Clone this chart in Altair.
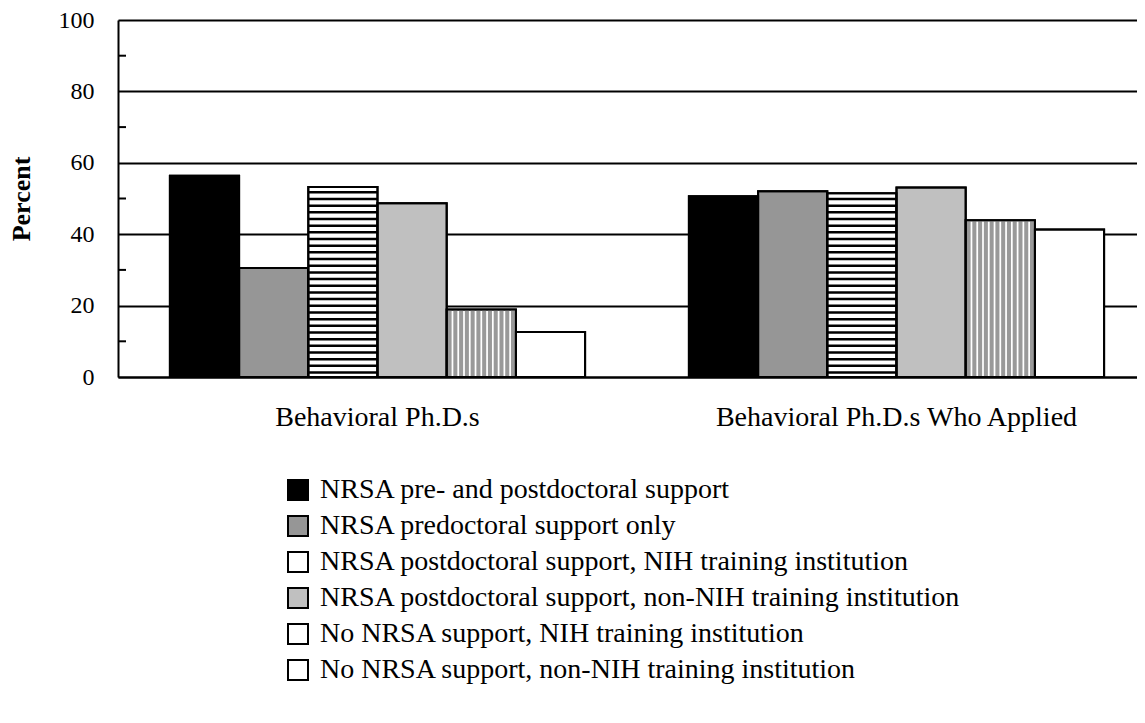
import altair as alt
import pandas as pd

groups = ["Behavioral Ph.D.s", "Behavioral Ph.D.s Who Applied"]
series = [
    "NRSA pre- and postdoctoral support",
    "NRSA predoctoral support only",
    "NRSA postdoctoral support, NIH training institution",
    "NRSA postdoctoral support, non-NIH training institution",
    "No NRSA support, NIH training institution",
    "No NRSA support, non-NIH training institution",
]
values_phd = [56.4, 30.5, 53.2, 48.7, 18.9, 12.6]
values_applied = [50.6, 52.0, 51.5, 53.1, 43.9, 41.3]
legend_colors = ["#000000", "#969696", "#ffffff", "#c0c0c0", "#ffffff", "#ffffff"]
y_labels = [0, 20, 40, 60, 80, 100]
minor_ticks = [10, 30, 50, 70, 90]

FONT = "Liberation Serif"

rows = []
for g, vals in zip(groups, [values_phd, values_applied]):
    for s, v in zip(series, vals):
        rows.append({"group": g, "series": s, "value": v})
df = pd.DataFrame(rows)

# decorative hatching: horizontal black stripes on series 3
H_STEP, H_THICK = 1.87, 0.7
hrows = []
for g, vals in zip(groups, [values_phd, values_applied]):
    v = vals[2]
    k = 0
    while k * H_STEP + 0.9 < v:
        y0 = k * H_STEP + 0.9
        hrows.append({"group": g, "series": series[2], "y0": y0, "y1": min(y0 + H_THICK, v)})
        k += 1
hdf = pd.DataFrame(hrows)

# decorative hatching: gray vertical stripes (white gaps) on series 5
SLOTS = 12
vrows = []
for g, vals in zip(groups, [values_phd, values_applied]):
    v = vals[4]
    for j in range(SLOTS):
        vrows.append({"group": g, "slot": 4 * SLOTS + j, "y0": 0, "y1": v})
vdf = pd.DataFrame(vrows)

PLOT_W = 1019
X_RANGE = 1038

yscale = alt.Scale(domain=[0, 100], nice=False)
yaxis = alt.Axis(
    values=y_labels, grid=True, gridColor="black", gridWidth=2,
    ticks=False, domain=True, domainColor="black", domainWidth=2,
    labelFont=FONT, labelFontSize=24, labelColor="black", labelPadding=24,
    titleFont=FONT, titleFontSize=26, titleFontWeight="bold", titleColor="black",
    titlePadding=24,
)
xscale = alt.Scale(paddingInner=0.2, paddingOuter=0.1, range=[0, X_RANGE])
xaxis = alt.Axis(
    ticks=False, domain=True, domainColor="black", domainWidth=2,
    labelFont=FONT, labelFontSize=28, labelColor="black", labelPadding=26,
    labelAngle=0, grid=False, labelLimit=0,
)


def X():
    return alt.X("group:N", sort=groups, scale=xscale, axis=xaxis, title=None)


def Y(field):
    return alt.Y(field, scale=yscale, axis=yaxis, title="Percent")


offset = alt.XOffset("series:N", sort=series, scale=alt.Scale(domain=series, paddingInner=0, paddingOuter=0))

bars = alt.Chart(df).mark_bar(stroke="black", strokeWidth=2).encode(
    x=X(), xOffset=offset, y=Y("value:Q"),
    fill=alt.Fill(
        "series:N", sort=series,
        scale=alt.Scale(domain=series, range=legend_colors),
        legend=alt.Legend(
            title=None, orient="none", legendX=166, legendY=456, direction="vertical",
            symbolType="square", symbolSize=400, symbolStrokeColor="black", symbolStrokeWidth=2,
            labelFont=FONT, labelFontSize=28, labelColor="black", labelOffset=8,
            rowPadding=8, padding=0, labelLimit=800,
        ),
    ),
)

hstripes = alt.Chart(hdf).mark_bar(fill="black", strokeWidth=0).encode(
    x=X(), xOffset=offset, y=Y("y0:Q"), y2="y1:Q",
)

vstripes = alt.Chart(vdf).mark_bar(fill="#999999", strokeWidth=0).encode(
    x=X(),
    xOffset=alt.XOffset("slot:O", scale=alt.Scale(domain=list(range(6 * SLOTS)), paddingInner=0.3, paddingOuter=0.15)),
    y=Y("y0:Q"), y2="y1:Q",
)

outline = alt.Chart(df).mark_bar(fillOpacity=0, stroke="black", strokeWidth=2).encode(
    x=X(), xOffset=offset, y=Y("value:Q"),
)

ticks = alt.Chart(pd.DataFrame({"t": minor_ticks})).mark_rule(color="black", strokeWidth=2).encode(
    y=Y("t:Q"), x=alt.value(0), x2=alt.value(8),
)

chart = alt.layer(bars, hstripes, vstripes, outline, ticks).resolve_scale(
    xOffset="independent"
).properties(
    width=PLOT_W, height=357,
    autosize=alt.AutoSizeParams(type="none"),
    padding={"left": 110, "top": 12, "right": 0, "bottom": 338},
).configure_view(stroke=None).configure(background="white")

chart.save("out.html", embed_options={"renderer": "svg", "actions": False})
